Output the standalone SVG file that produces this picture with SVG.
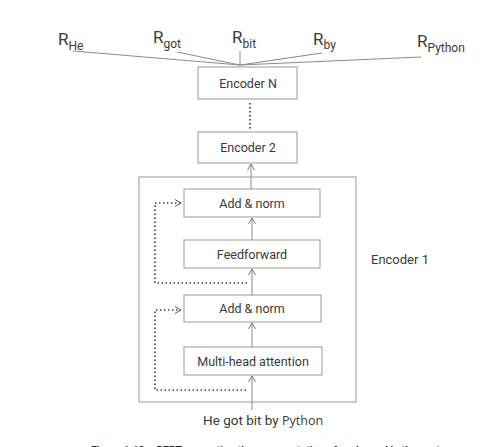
<svg xmlns="http://www.w3.org/2000/svg" width="486" height="447" viewBox="0 0 486 447">
<style>
text{font-family:Roboto,"Liberation Sans",sans-serif;fill:#3a3a3a}
.box{fill:#fff;stroke:#9a9a9a;stroke-width:1}
.lbl{font-size:12.5px;text-anchor:middle}
.ln{stroke:#8a8a8a;stroke-width:1;fill:none}
.dot{stroke:#333;stroke-width:1.6;fill:none;stroke-dasharray:1.4 2.6}
.R{font-size:17px}
.s{font-size:12px}
</style>
<defs>
<marker id="ah" markerWidth="8" markerHeight="8" refX="7" refY="4" orient="auto" markerUnits="userSpaceOnUse">
<path d="M1,0.5 L7,4 L1,7.5" fill="none" stroke="#7a7a7a" stroke-width="1"/>
</marker>
<marker id="ahd" markerWidth="8" markerHeight="8" refX="7" refY="4" orient="auto" markerUnits="userSpaceOnUse">
<path d="M1,0.5 L7,4 L1,7.5" fill="none" stroke="#555" stroke-width="1"/>
</marker>
</defs>
<rect width="486" height="447" fill="#fff"/>

<g id="connectors">
<line class="ln" x1="73" y1="51" x2="240" y2="65"/>
<line class="ln" x1="177" y1="52" x2="240" y2="65"/>
<line class="ln" x1="240" y1="51" x2="240" y2="65"/>
<line class="ln" x1="322" y1="53" x2="240" y2="65"/>
<line class="ln" x1="421" y1="57" x2="240" y2="65"/>
<line class="dot" x1="250" y1="103" x2="250" y2="130"/>
<line class="ln" x1="251" y1="189" x2="251" y2="164" marker-end="url(#ah)"/>
<line class="ln" x1="252" y1="240" x2="252" y2="218" marker-end="url(#ah)"/>
<line class="ln" x1="252" y1="295" x2="252" y2="269" marker-end="url(#ah)"/>
<line class="ln" x1="252" y1="347" x2="252" y2="323" marker-end="url(#ah)"/>
<line class="ln" x1="252" y1="410" x2="252" y2="376" marker-end="url(#ah)"/>
<path class="dot" d="M247,283 H155 V203 H181" marker-end="url(#ahd)"/>
<path class="dot" d="M246,390 H155 V310 H181" marker-end="url(#ahd)"/>
</g>

<g id="outputs">
<text x="58" y="45"><tspan class="R">R</tspan><tspan class="s" dy="5">He</tspan></text>
<text x="153" y="43"><tspan class="R">R</tspan><tspan class="s" dy="5">got</tspan></text>
<text x="232" y="43"><tspan class="R">R</tspan><tspan class="s" dy="5">bit</tspan></text>
<text x="313" y="45"><tspan class="R">R</tspan><tspan class="s" dy="4">by</tspan></text>
<text x="417" y="47"><tspan class="R">R</tspan><tspan class="s" dy="5">Python</tspan></text>
</g>

<g id="encoderN">
<rect class="box" x="198" y="67" width="99" height="32"/>
<text class="lbl" x="248" y="87.5">Encoder N</text>
</g>

<g id="encoder2">
<rect class="box" x="198" y="132" width="99" height="31"/>
<text class="lbl" x="248" y="152">Encoder 2</text>
</g>

<g id="encoder1">
<rect x="139" y="177" width="217" height="225" fill="none" stroke="#9a9a9a" stroke-width="1"/>
<text x="371" y="264" style="font-size:13px">Encoder 1</text>
</g>

<g id="addnorm2">
<rect class="box" x="184" y="189" width="136" height="28"/>
<text class="lbl" x="252" y="207.5">Add &amp; norm</text>
</g>

<g id="feedforward">
<rect class="box" x="184" y="240" width="136" height="28"/>
<text class="lbl" x="252" y="258.5">Feedforward</text>
</g>

<g id="addnorm1">
<rect class="box" x="184" y="295" width="137" height="27"/>
<text class="lbl" x="252" y="313">Add &amp; norm</text>
</g>

<g id="mha">
<rect class="box" x="184" y="347" width="138" height="28"/>
<text class="lbl" x="253" y="365.5">Multi-head attention</text>
</g>

<g id="input">
<text x="203" y="425" style="font-size:13.5px">He got bit by <tspan style="font-family:'Open Sans','Noto Sans',sans-serif;font-size:12.5px">Python</tspan></text>
</g>

<text x="91" y="454" style="font-size:10.5px;font-weight:bold;fill:#222">Figure 1.12 – BERT generating the representation of each word in the sentence</text>
</svg>
